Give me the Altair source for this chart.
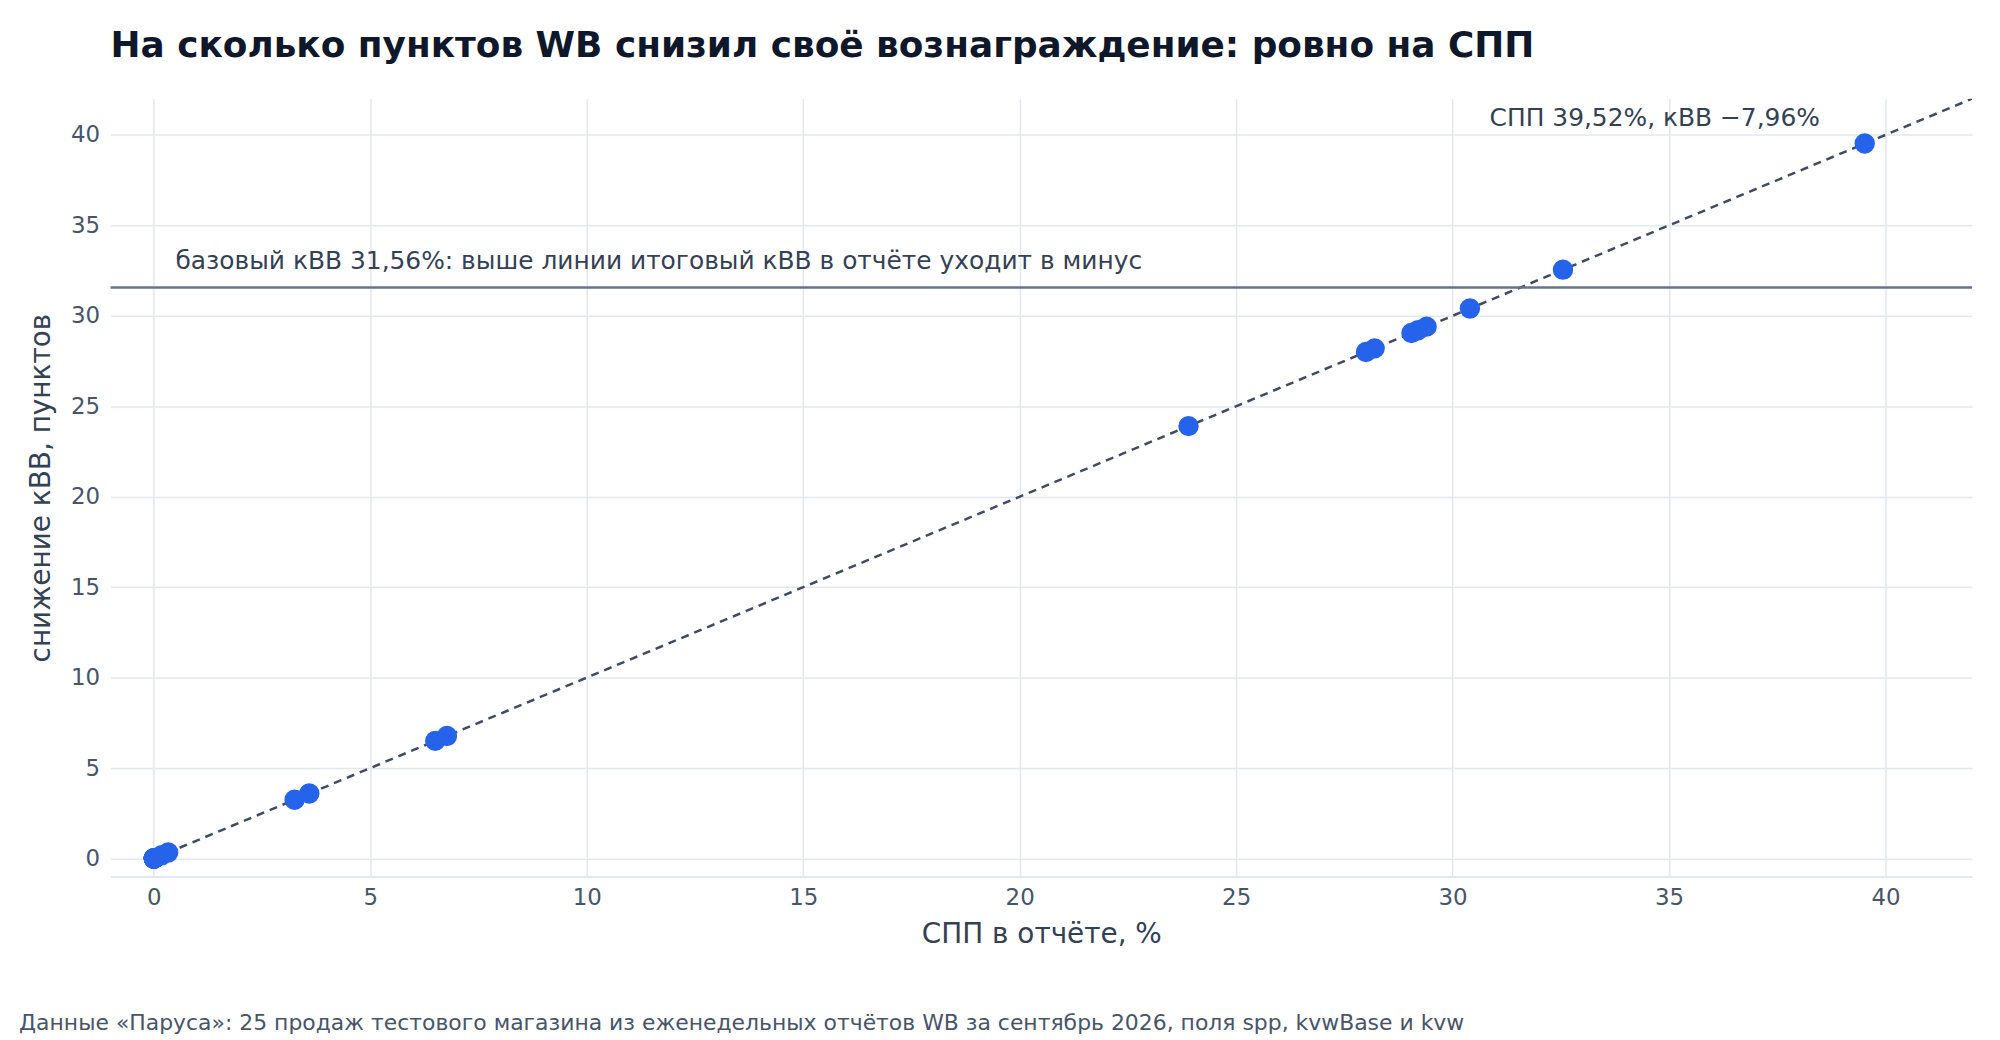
import altair as alt
import pandas as pd

# SPP in the report and the drop of the WB reward (kVV), percentage points, 25 sales
spp = [0, 0, 0, 0, 0, 0, 0, 0, 0, 0, 0.18, 0.33, 3.25, 3.59, 6.5, 6.77, 23.9,
       28.0, 28.2, 29.05, 29.2, 29.4, 30.4, 32.55, 39.52]
kvv_drop = [0, 0, 0, 0, 0, 0, 0, 0, 0, 0, 0.18, 0.33, 3.25, 3.59, 6.5, 6.77, 23.9,
            28.0, 28.2, 29.05, 29.2, 29.4, 30.4, 32.55, 39.52]

base_kvv = 31.56
diag_x = [0, 42]
axis_ticks = [0, 5, 10, 15, 20, 25, 30, 35, 40]

title = "На сколько пунктов WB снизил своё вознаграждение: ровно на СПП"
base_note = "базовый кВВ 31,56%: выше линии итоговый кВВ в отчёте уходит в минус"
max_note = "СПП 39,52%, кВВ −7,96%"
source = ("Данные «Паруса»: 25 продаж тестового магазина из еженедельных отчётов WB "
          "за сентябрь 2026, поля spp, kvwBase и kvw")

FONT = "DejaVu Sans"
W, H = 1869, 781

points = pd.DataFrame({"spp": spp, "drop": kvv_drop})
diag = pd.DataFrame({"spp": diag_x, "drop": diag_x})
base = pd.DataFrame({"drop": [base_kvv], "spp": [0.5], "label": [base_note]})
top = pd.DataFrame({"spp": [39.52], "drop": [39.52], "label": [max_note]})
src = pd.DataFrame({"label": [source]})

x_scale = alt.Scale(domain=[-1, 42], nice=False, zero=False)
y_scale = alt.Scale(domain=[-1, 42], nice=False, zero=False)

x_axis = alt.Axis(values=axis_ticks, title="СПП в отчёте, %", grid=True,
                  gridColor="#e2e8f0", gridWidth=1.5, domain=True,
                  domainColor="#e2e8f0", domainWidth=2, ticks=False, tickSize=0,
                  labelPadding=10, labelFontSize=23, labelColor="#475569",
                  labelFont=FONT, titleFont=FONT, titleFontSize=28,
                  titleFontWeight="normal", titleColor="#334155",
                  titleX=W / 2, titleY=58, titleBaseline="middle")
y_axis = alt.Axis(values=axis_ticks, title="снижение кВВ, пунктов", grid=True,
                  gridColor="#e2e8f0", gridWidth=1.5, domain=False,
                  ticks=False, tickSize=0, labelPadding=11, labelFontSize=23,
                  labelColor="#475569", labelFont=FONT, titleFont=FONT,
                  titleFontSize=28, titleFontWeight="normal", titleColor="#334155",
                  titleX=-69, titleY=H / 2, titleAngle=-90, titleBaseline="middle",
                  titleAlign="center")

line45 = alt.Chart(diag).mark_line(
    color="#3f4b63", strokeWidth=2.5, strokeDash=[8, 6], clip=True
).encode(
    x=alt.X("spp:Q", scale=x_scale, axis=x_axis),
    y=alt.Y("drop:Q", scale=y_scale, axis=y_axis),
)

base_rule = alt.Chart(base).mark_rule(color="#64748b", strokeWidth=2.5).encode(
    y=alt.Y("drop:Q", scale=y_scale)
)

base_text = alt.Chart(base).mark_text(
    align="left", baseline="middle", dy=-27, fontSize=25, font=FONT, color="#334155"
).encode(
    x=alt.X("spp:Q", scale=x_scale),
    y=alt.Y("drop:Q", scale=y_scale),
    text="label:N",
)

dots = alt.Chart(points).mark_circle(color="#2563eb", opacity=1, size=420).encode(
    x=alt.X("spp:Q", scale=x_scale),
    y=alt.Y("drop:Q", scale=y_scale),
)

top_text = alt.Chart(top).mark_text(
    align="right", baseline="middle", dx=-45, dy=-26, fontSize=25, font=FONT,
    color="#334155"
).encode(
    x=alt.X("spp:Q", scale=x_scale),
    y=alt.Y("drop:Q", scale=y_scale),
    text="label:N",
)

src_text = alt.Chart(src).mark_text(
    align="left", baseline="middle", fontSize=22, font=FONT, color="#475569"
).encode(
    x=alt.value(-92),
    y=alt.value(928),
    text="label:N",
)

chart = alt.layer(line45, base_rule, base_text, dots, top_text, src_text).properties(
    width=W,
    height=H,
    title=alt.TitleParams(title, anchor="start", frame="group", offset=34,
                          fontSize=36, font=FONT, fontWeight="bold",
                          color="#0f172a"),
    autosize=alt.AutoSizeParams(type="none"),
    padding={"left": 103, "top": 89, "right": 20, "bottom": 162},
    background="white",
).configure_view(strokeWidth=0)

chart.save("out.html", embed_options={"renderer": "svg", "actions": False})
